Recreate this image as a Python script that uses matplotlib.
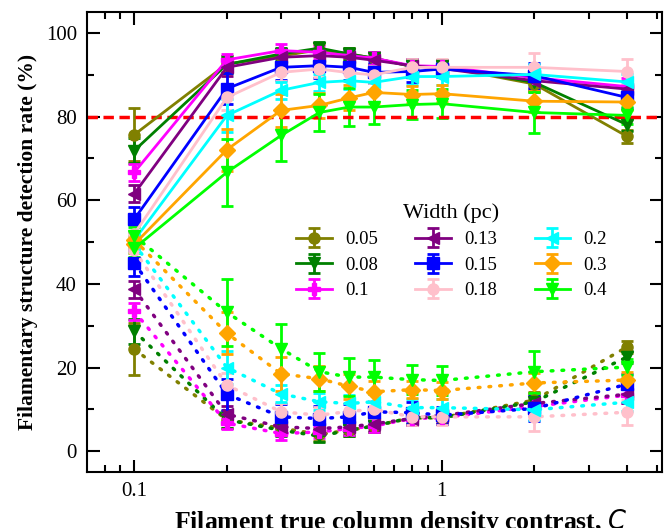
import numpy as np
import matplotlib
matplotlib.use('Agg')
import matplotlib.pyplot as plt
from matplotlib.ticker import MultipleLocator, FixedLocator, NullFormatter

plt.rcParams['font.family'] = ['Liberation Serif', 'DejaVu Serif']
plt.rcParams['mathtext.fontset'] = 'dejavusans'

# contrast values
contrast = [0.1, 0.2, 0.3, 0.4, 0.5, 0.6, 0.8, 1, 2, 4]

widths = ['0.05', '0.08', '0.1', '0.13', '0.15', '0.18', '0.2', '0.3', '0.4']
colors = ['olive', 'green', 'magenta', 'purple', 'blue', 'pink', 'cyan', 'orange', 'lime']
markers = ['o', 'v', 'P', '<', 's', 'o', '<', 'D', 'v']

# detection rate (%), solid lines
det = [
    [75.7, 92.6, 94.5, 96.0, 95.0, 94.0, 92.0, 92.0, 87.8, 75.3],   # 0.05
    [71.9, 92.5, 95.0, 96.4, 95.0, 94.0, 92.0, 92.0, 88.2, 78.1],   # 0.08
    [66.7, 93.6, 95.8, 95.4, 94.6, 94.0, 92.2, 92.0, 89.3, 87.2],   # 0.1
    [61.6, 91.8, 94.2, 94.6, 94.2, 93.5, 92.2, 91.5, 88.6, 86.6],   # 0.13
    [55.5, 86.7, 91.8, 92.2, 91.8, 90.6, 90.8, 91.4, 89.8, 84.6],   # 0.15
    [52.0, 84.6, 90.6, 91.4, 90.5, 90.0, 91.8, 91.8, 91.8, 90.8],   # 0.18
    [50.5, 80.3, 86.3, 88.2, 88.6, 88.2, 89.6, 89.6, 90.1, 88.3],   # 0.2
    [49.5, 72.1, 81.5, 82.7, 84.5, 85.8, 85.3, 85.5, 83.7, 83.5],   # 0.3
    [48.5, 66.7, 75.5, 81.0, 82.3, 82.3, 82.9, 83.1, 81.0, 80.3],   # 0.4
]

# complementary rate (%), dotted lines
miss = [
    [24.4, 7.5, 5.5, 4.0, 5.0, 6.0, 8.0, 8.0, 12.2, 24.9],
    [28.7, 7.5, 5.0, 3.6, 5.0, 6.0, 8.0, 8.0, 11.8, 22.5],
    [33.4, 6.7, 4.2, 4.6, 5.4, 6.0, 7.8, 8.0, 10.7, 13.4],
    [38.7, 8.8, 5.8, 5.4, 5.8, 6.5, 7.8, 8.5, 11.4, 13.6],
    [45.0, 13.6, 8.2, 7.8, 8.2, 9.4, 9.2, 8.6, 10.2, 16.0],
    [48.0, 15.8, 9.4, 8.6, 9.5, 10.0, 8.2, 8.2, 8.2, 9.3],
    [49.5, 20.0, 13.7, 11.8, 11.4, 11.8, 10.4, 10.4, 9.9, 11.7],
    [50.5, 28.2, 18.5, 17.3, 15.5, 14.2, 14.7, 14.5, 16.3, 17.0],
    [51.5, 33.2, 24.5, 19.0, 17.7, 17.7, 17.1, 16.9, 19.0, 20.1],
]

# error bars (%)
err = [
    [6.3, 2.0, 1.5, 1.5, 1.5, 1.5, 1.5, 1.5, 2.0, 1.5],
    [3.0, 2.0, 1.5, 1.5, 1.5, 1.5, 1.5, 1.5, 2.0, 1.5],
    [2.0, 1.5, 1.5, 1.5, 1.5, 1.5, 1.5, 1.5, 2.0, 2.0],
    [2.0, 2.0, 1.5, 1.5, 1.5, 1.5, 1.5, 1.5, 2.0, 2.0],
    [3.0, 3.7, 3.0, 3.0, 3.0, 2.5, 2.5, 2.0, 3.0, 2.5],
    [2.0, 3.0, 2.0, 2.0, 2.0, 2.0, 2.0, 2.0, 3.5, 3.0],
    [2.0, 4.0, 2.0, 2.0, 2.0, 2.0, 2.0, 2.0, 2.5, 2.0],
    [2.0, 5.0, 4.0, 3.0, 3.0, 2.5, 2.0, 2.0, 2.5, 2.0],
    [2.0, 8.0, 6.0, 4.5, 4.5, 4.0, 3.5, 3.5, 5.0, 2.0],
]

fig = plt.figure(figsize=(6.67, 5.28), dpi=100)
ax = fig.add_axes([0.130, 0.106, 0.8625, 0.871])

for i in range(len(widths)):
    ax.errorbar(contrast, det[i], yerr=err[i], color=colors[i], marker=markers[i],
                markersize=8, lw=2, capsize=4.5, capthick=2, elinewidth=2,
                label=widths[i])
    ax.errorbar(contrast, miss[i], yerr=err[i], color=colors[i], marker=markers[i],
                markersize=8, lw=2.5, ls=(0, (0.5, 2.6)), dash_capstyle='round',
                capsize=4.5, capthick=2, elinewidth=2)

ax.axhline(80, color='red', lw=2.5, ls=(0, (3, 1.6)))

ax.set_xscale('log')
ax.set_xlim(0.07, 5.2)
ax.set_ylim(-5, 105)
ax.xaxis.set_major_locator(FixedLocator([0.1, 1]))
ax.xaxis.set_minor_locator(FixedLocator([0.08, 0.09, 0.2, 0.3, 0.4, 0.5, 0.6, 0.7, 0.8, 0.9, 2, 3, 4, 5]))
ax.xaxis.set_minor_formatter(NullFormatter())
ax.set_xticklabels(['0.1', '1'])
ax.yaxis.set_major_locator(MultipleLocator(20))
ax.yaxis.set_minor_locator(MultipleLocator(10))
ax.tick_params(which='both', direction='in', top=True, right=True, labelsize=15, width=1.5)
ax.tick_params(which='major', length=9, pad=7)
ax.tick_params(which='minor', length=5)
for s in ax.spines.values():
    s.set_linewidth(1.5)

ax.set_ylabel('Filamentary structure detection rate (%)', fontsize=15.5, fontweight='bold', labelpad=6)
ax.set_xlabel('Filament true column density contrast, $C$', fontsize=18.5, fontweight='bold')
ax.xaxis.set_label_coords(0.545, -0.076)

leg = ax.legend(title='Width (pc)', ncol=3, frameon=False, fontsize=13.5, title_fontsize=16,
                loc='upper left', bbox_to_anchor=(0.335, 0.622), handlelength=1.9,
                handletextpad=0.7, columnspacing=2.0, labelspacing=0.45)

fig.savefig('out.png', dpi=100)
